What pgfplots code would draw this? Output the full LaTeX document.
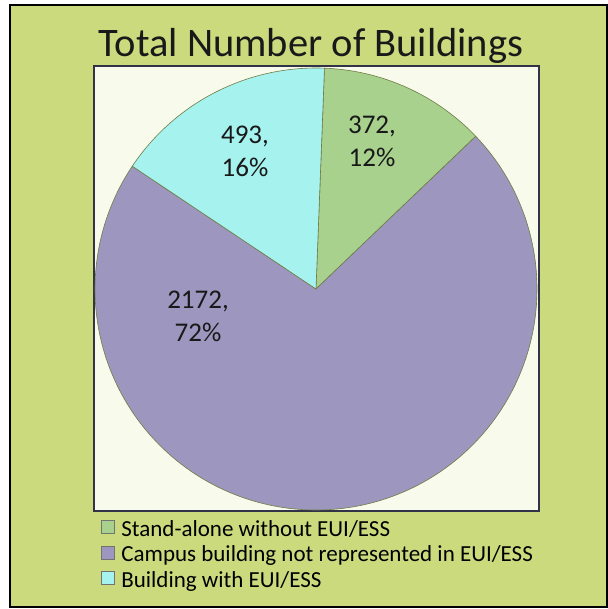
\documentclass[border=0pt]{standalone}
\usepackage{pgfplots}
\pgfplotsset{compat=1.18}
\usepackage{fontspec}
\setmainfont{Carlito}
\definecolor{bggreen}{RGB}{204,218,126}
\definecolor{plotbg}{RGB}{248,250,236}
\definecolor{sgreen}{RGB}{169,209,142}
\definecolor{spurple}{RGB}{157,151,191}
\definecolor{scyan}{RGB}{166,242,238}
\definecolor{sline}{RGB}{110,125,70}
\definecolor{boxline}{RGB}{50,50,72}
% data
\def\vA{372}   % Stand-alone without EUI/ESS
\def\vB{2172}  % Campus building not represented in EUI/ESS
\def\vC{493}   % Building with EUI/ESS
\pgfmathsetmacro{\tot}{\vA+\vB+\vC}
\pgfmathsetmacro{\aS}{2.2}
\pgfmathsetmacro{\aA}{\aS+360*(\vA/\tot)}
\pgfmathsetmacro{\aB}{\aA+360*(\vB/\tot)}
\pgfmathsetmacro{\aC}{\aB+360*(\vC/\tot)}
\def\cx{316}\def\cy{289}\def\rr{221}
\begin{document}
\begin{tikzpicture}
% backgrounds (pixel coords -> pt, y flipped)
\fill[white] (0pt,0pt) rectangle (604pt,609pt);
\filldraw[fill=bggreen, draw=black, line width=1.6pt] (10pt,609pt-5pt) rectangle (607pt,609pt-607pt);
\filldraw[fill=plotbg, draw=boxline, line width=2.2pt] (94pt,609pt-66pt) rectangle (539pt,609pt-511pt);
\begin{axis}[
  x=1pt, y=1pt, y dir=reverse,
  xmin=0, xmax=604, ymin=0, ymax=609,
  scale only axis, hide axis, clip=false,
  anchor=south west, at={(0pt,0pt)},
  legend style={at={(axis cs:101,519)}, anchor=north west, draw=none, fill=none,
    font=\fontsize{23}{25.5}\selectfont, row sep=0pt, inner sep=0pt, outer sep=0pt,
    nodes={inner sep=0pt, text height=17pt, text depth=8.5pt},
    cells={anchor=west}},
  legend image code/.code={\path[draw=none, fill=none] (0pt,-2pt) rectangle (20pt,11pt);\draw[#1, draw=black!55, line width=0.7pt] (0pt,-2pt) rectangle (13pt,11pt);},
]
\addplot[fill=sgreen, draw=sline, line width=0.6pt, domain=\aS:\aA, samples=60, variable=\t]
  ({\cx+\rr*sin(\t)},{\cy-\rr*cos(\t)}) -- (axis cs:\cx,\cy) -- cycle;
\addlegendentry{Stand-alone without EUI/ESS}
\addplot[fill=spurple, draw=sline, line width=0.6pt, domain=\aA:\aB, samples=200, variable=\t]
  ({\cx+\rr*sin(\t)},{\cy-\rr*cos(\t)}) -- (axis cs:\cx,\cy) -- cycle;
\addlegendentry{Campus building not represented in EUI/ESS}
\addplot[fill=scyan, draw=sline, line width=0.6pt, domain=\aB:\aC, samples=60, variable=\t]
  ({\cx+\rr*sin(\t)},{\cy-\rr*cos(\t)}) -- (axis cs:\cx,\cy) -- cycle;
\addlegendentry{Building with EUI/ESS}
\node[font=\fontsize{27}{33}\selectfont, align=center, text=black!90] at (axis cs:372,141) {372,\\12\%};
\node[font=\fontsize{27}{33}\selectfont, align=center, text=black!90] at (axis cs:245,151) {493,\\16\%};
\node[font=\fontsize{27}{33}\selectfont, align=center, text=black!90] at (axis cs:198,316) {2172,\\72\%};
\node[font=\fontsize{40.5}{46}\selectfont, anchor=base, text=black!90] at (axis cs:311,56.5) {Total Number of Buildings};
\end{axis}
\end{tikzpicture}
\end{document}
